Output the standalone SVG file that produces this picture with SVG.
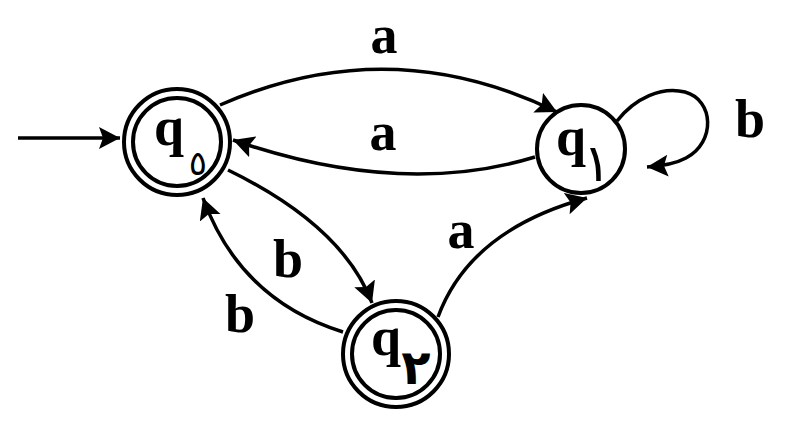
<svg xmlns="http://www.w3.org/2000/svg" width="796" height="429" viewBox="0 0 796 429">
<style>
.st{fill:none;stroke:#000;stroke-width:4}
.ed{fill:none;stroke:#000;stroke-width:3.5;marker-end:url(#ah)}
.q{font-family:"Liberation Serif",serif;font-weight:bold;font-size:54px;fill:#000}
.sub{font-family:"DejaVu Sans",sans-serif;font-weight:bold;font-size:48px;fill:#000;text-anchor:middle}
.lb{font-family:"Liberation Serif",serif;font-weight:bold;font-size:54px;fill:#000;text-anchor:middle}
</style>
<defs>
<marker id="ah" markerUnits="userSpaceOnUse" markerWidth="26" markerHeight="26" refX="21" refY="11" orient="auto">
<path d="M0,0 L21,11 L0,22 L4,11 Z" fill="#000"/>
</marker>
</defs>
<rect width="796" height="429" fill="#fff"/>
<g id="edges">
<path class="ed" d="M18,138 L120,138"/>
<path class="ed" d="M220,105 Q390,30 557,112"/>
<path class="ed" d="M535,157 Q400,198 233,140"/>
<path class="ed" d="M617,121 C635,98 662,86 685,92 C714,100 716,142 686,158 C675,164 662,166 647,167"/>
<path class="ed" d="M228,170 Q343,226 372,303"/>
<path class="ed" d="M343,332 Q240,300 203,198"/>
<path class="ed" d="M438,317 Q470,230 587,198"/>
</g>
<g id="q0">
<circle class="st" cx="177" cy="142" r="53"/>
<circle class="st" cx="177" cy="142" r="44"/>
<text class="q" x="154" y="145">q</text>
<text class="sub" x="198" y="175" style="font-size:34px;font-weight:normal">٥</text>
</g>
<g id="q1">
<circle class="st" cx="581" cy="149" r="44"/>
<text class="q" x="556" y="155">q</text>
<text class="sub" x="597" y="181" style="font-size:52px;font-weight:normal">١</text>
</g>
<g id="q2">
<circle class="st" cx="396" cy="354" r="53"/>
<circle class="st" cx="396" cy="354" r="44"/>
<text class="q" x="371" y="355">q</text>
<text class="sub" x="416" y="384">٢</text>
</g>
<g id="labels">
<text class="lb" x="384" y="53">a</text>
<text class="lb" x="383" y="150">a</text>
<text class="lb" x="750" y="137">b</text>
<text class="lb" x="288" y="277">b</text>
<text class="lb" x="240" y="332">b</text>
<text class="lb" x="461" y="248">a</text>
</g>
</svg>
